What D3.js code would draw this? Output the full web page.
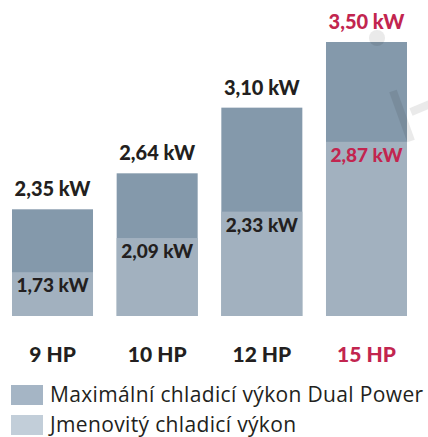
<!DOCTYPE html>
<html>
<head>
  <meta charset="utf-8">
  <title>Chladicí výkon</title>
  <style>
    body { margin: 0; background: #fff; }
    svg text { font-family: "Lato", "Open Sans", sans-serif; }
    svg text.legend-text { font-family: "Open Sans", sans-serif; letter-spacing: 0.35px; }
  </style>
</head>
<body>
  <script src="https://d3js.org/d3.v7.min.js"></script>
  <script>
  var categories = ["9 HP", "10 HP", "12 HP", "15 HP"];
  var maxValues = [2.35, 2.64, 3.10, 3.50];
  var ratedValues = [1.73, 2.09, 2.33, 2.87];
  var legendLabels = ["Maximální chladicí výkon Dual Power", "Jmenovitý chladicí výkon"];
  var highlight = "15 HP";

  var width = 428, height = 437;
  var bottom = 316;

  var svg = d3.select("body").append("svg")
      .attr("width", width)
      .attr("height", height);

  var x = d3.scaleBand()
      .domain(categories)
      .range([12, 407])
      .paddingInner(0.226)
      .paddingOuter(0);

  // bars in the original are not drawn to a linear scale
  var y = d3.scalePow().exponent(2)
      .domain([1.11, 3.5])
      .range([bottom, 42]);

  var fmt = function(v) { return d3.format(".2f")(v).replace(".", ",") + " kW"; };
  var textColor = function(c) { return c === highlight ? "#c2254f" : "#231f20"; };

  var data = categories.map(function(c, i) {
    return { cat: c, max: maxValues[i], rated: ratedValues[i] };
  });

  var g = svg.append("g");

  g.selectAll(".bar-max")
    .data(data)
    .enter().append("rect")
      .attr("x", function(d) { return x(d.cat); })
      .attr("y", function(d) { return y(d.max); })
      .attr("width", x.bandwidth())
      .attr("height", function(d) { return bottom - y(d.max); })
      .attr("fill", "#8499ab");

  g.selectAll(".bar-rated")
    .data(data)
    .enter().append("rect")
      .attr("x", function(d) { return x(d.cat); })
      .attr("y", function(d) { return y(d.rated); })
      .attr("width", x.bandwidth())
      .attr("height", function(d) { return bottom - y(d.rated); })
      .attr("fill", "#a2b1bf");

  // faint watermark
  var wm = svg.append("g").attr("fill", "none").attr("stroke", "#000").attr("opacity", 0.08);
  wm.append("circle").attr("cx", 377).attr("cy", 38).attr("r", 8).attr("fill", "#000").attr("stroke", "none");
  wm.append("line").attr("x1", 393).attr("y1", 91).attr("x2", 411).attr("y2", 141).attr("stroke-width", 8);
  wm.append("line").attr("x1", 411).attr("y1", 112).attr("x2", 430).attr("y2", 104).attr("stroke-width", 8);

  g.selectAll(".lbl-max")
    .data(data)
    .enter().append("text")
      .attr("x", function(d) { return x(d.cat) + x.bandwidth() / 2; })
      .attr("y", function(d) { return y(d.max) - 13; })
      .attr("text-anchor", "middle")
      .attr("font-size", "20px")
      .attr("font-weight", "900")
      .attr("fill", function(d) { return textColor(d.cat); })
      .text(function(d) { return fmt(d.max); });

  g.selectAll(".lbl-rated")
    .data(data)
    .enter().append("text")
      .attr("x", function(d) { return x(d.cat) + x.bandwidth() / 2; })
      .attr("y", function(d) { return y(d.rated) + 20; })
      .attr("text-anchor", "middle")
      .attr("font-size", "19px")
      .attr("font-weight", "900")
      .attr("fill", function(d) { return textColor(d.cat); })
      .text(function(d) { return fmt(d.rated); });

  var axis = svg.append("g")
      .attr("transform", "translate(0," + bottom + ")")
      .call(d3.axisBottom(x).tickSize(0).tickPadding(31));
  axis.select(".domain").remove();
  axis.selectAll("text")
      .attr("font-size", "21px")
      .attr("font-weight", "900")
      .attr("fill", function(d) { return textColor(d); });

  var legend = svg.append("g");
  var legendColors = ["#a5b5c5", "#c2ced9"];
  var items = legend.selectAll("g")
      .data(legendLabels)
      .enter().append("g")
      .attr("transform", function(d, i) { return "translate(11," + (385 + i * 30) + ")"; });
  items.append("rect")
      .attr("width", 32)
      .attr("height", 20)
      .attr("fill", function(d, i) { return legendColors[i]; });
  items.append("text")
      .attr("class", "legend-text")
      .attr("x", 39)
      .attr("y", 17)
      .attr("font-size", "21px")
      .attr("fill", "#231f20")
      .text(function(d) { return d; });
  </script>
</body>
</html>
